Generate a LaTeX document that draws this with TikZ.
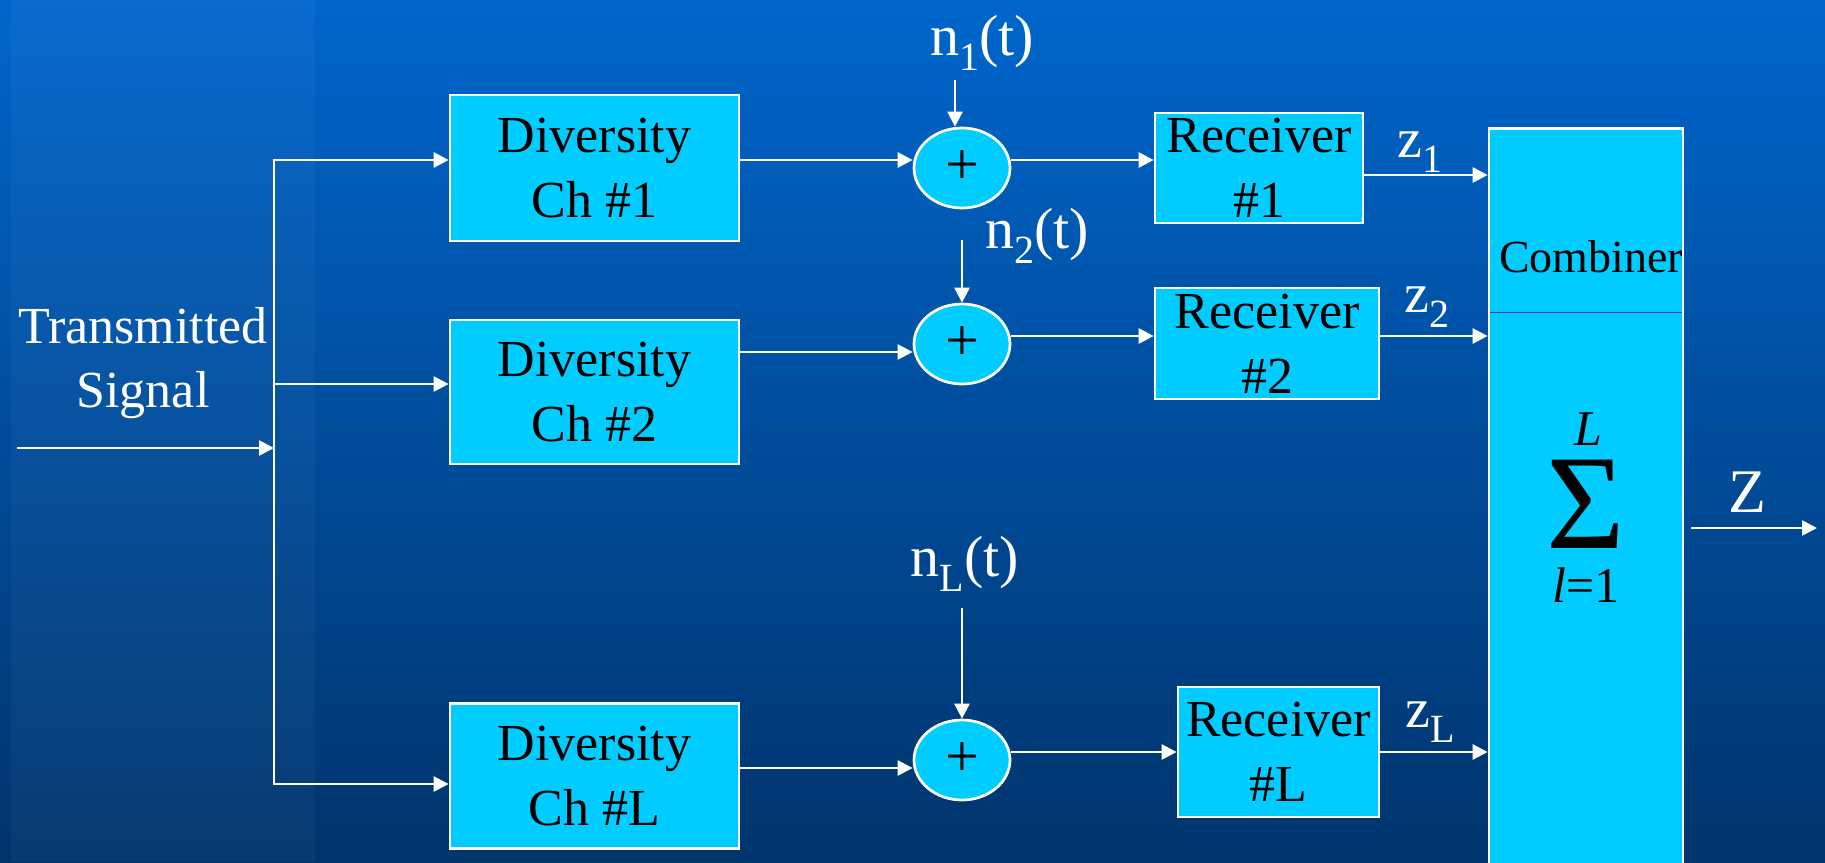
\documentclass[tikz,border=0pt]{standalone}
\usepackage{fontspec}
\setmainfont{Liberation Serif}
\usetikzlibrary{arrows.meta,shapes.geometric}

\definecolor{slidetop}{RGB}{0,102,204}
\definecolor{slidebot}{RGB}{0,52,108}
\definecolor{boxcyan}{RGB}{0,204,255}
\definecolor{splitblue}{RGB}{0,64,200}

\newcommand{\lowidx}[1]{\raisebox{-15pt}{\fontsize{40}{40}\selectfont #1}}

\tikzset{
  blockbox/.style={draw=white, line width=2.7pt, fill=boxcyan, inner sep=0pt,
    align=center, font=\fontsize{52}{65}\selectfont},
  adder/.style={ellipse, draw=white, line width=2.7pt, fill=boxcyan,
    minimum width=96pt, minimum height=80pt, inner sep=0pt,
    font=\fontsize{60}{60}\selectfont},
  wirelabel/.style={white, anchor=base, inner sep=0pt, font=\fontsize{58}{58}\selectfont},
  sumlabel/.style={black, anchor=base, inner sep=0pt, font=\fontsize{50}{50}\selectfont},
  arr/.style={white, line width=2.7pt, -{Triangle[length=15pt,width=15pt]}},
}

\begin{document}
\begin{tikzpicture}[x=1pt,y=-1pt]
\useasboundingbox (0,0) rectangle (1825,862);
\shade[top color=slidetop, bottom color=slidebot] (0,0) rectangle (1825,862);
\fill[white, opacity=0.03] (11,0) rectangle (315,862);

% input side
\node[white, align=center, inner sep=0pt, font=\fontsize{52}{64}\selectfont] (tx) at (143,363) {Transmitted\\Signal};
\coordinate (feed) at (17,448);
\coordinate (bustop) at (274,160);
\coordinate (busbot) at (274,784);

% diversity channels
\node[blockbox, minimum width=289pt, minimum height=146pt] (div1) at (594.5,168) {Diversity\\Ch \#1};
\node[blockbox, minimum width=289pt, minimum height=144pt] (div2) at (594.5,392) {Diversity\\Ch \#2};
\node[blockbox, minimum width=289pt, minimum height=145pt] (divL) at (594.5,776) {Diversity\\Ch \#L};

% noise adders
\node[adder] (sum1) at (962,168) {+};
\node[adder] (sum2) at (962,344) {+};
\node[adder] (sumL) at (962,760) {+};
\node[wirelabel] (n1) at (982,55) {n\lowidx{1}(t)};
\node[wirelabel] (n2) at (1037,248) {n\lowidx{2}(t)};
\node[wirelabel] (nL) at (965,576) {n\lowidx{L}(t)};
\coordinate (noise1) at (955,80);
\coordinate (noise2) at (962,240);
\coordinate (noiseL) at (962,608);

% receivers
\node[blockbox, minimum width=208pt, minimum height=110pt] (rec1) at (1259,168) {Receiver\\\#1};
\node[blockbox, minimum width=224pt, minimum height=111pt] (rec2) at (1267,343.5) {Receiver\\\#2};
\node[blockbox, minimum width=201pt, minimum height=130pt] (recL) at (1278.5,752) {Receiver\\\#L};
\node[wirelabel, font=\fontsize{56}{56}\selectfont] (z1) at (1420,157) {z\lowidx{1}};
\node[wirelabel, font=\fontsize{56}{56}\selectfont] (z2) at (1427,312) {z\lowidx{2}};
\node[wirelabel, font=\fontsize{56}{56}\selectfont] (zL) at (1430,727) {z\lowidx{L}};

% combiner
\node[blockbox, minimum width=194pt, minimum height=740pt, anchor=north] (comb) at (1586,127) {};
\draw[splitblue, line width=1pt] ([xshift=2pt]comb.west |- 0,312) -- ([xshift=-2pt]comb.east |- 0,312);
\node[sumlabel, font=\fontsize{46}{46}\selectfont] (combtxt) at (1591,272) {Combiner};
\node[sumlabel, font=\fontsize{135}{135}\selectfont, text height=90pt, text depth=0pt] (sigma) at (1586,548) {Σ};
\node[sumlabel, font=\fontsize{50}{50}\itshape, text depth=0pt] (upper) at (1588,445) {L};
\node[sumlabel, text height=34pt] (lower) at (1586,602) {\textit{l}=1};
\coordinate (zout) at (1817,528);
\node[wirelabel, font=\fontsize{62}{62}\selectfont] (zsum) at (1747,512) {Z};

% connectors
\draw[white, line width=2.7pt, line cap=rect] (bustop) -- (busbot);
\draw[arr] (feed) -- (bustop |- feed);
\draw[arr] (bustop) -- (div1.west |- bustop);
\draw[arr] (bustop |- 0,384) -- (div2.west |- 0,384);
\draw[arr] (busbot) -- (divL.west |- busbot);
\draw[arr] (div1.east |- 0,160) -- (sum1.west |- 0,160);
\draw[arr] (div2.east |- 0,352) -- (sum2.west |- 0,352);
\draw[arr] (divL.east |- 0,768) -- (sumL.west |- 0,768);
\draw[arr] (noise1) -- (noise1 |- sum1.north);
\draw[arr] (noise2) -- (sum2.north);
\draw[arr] (noiseL) -- (sumL.north);
\draw[arr] (sum1.east |- 0,160) -- (rec1.west |- 0,160);
\draw[arr] (sum2.east |- 0,336) -- (rec2.west |- 0,336);
\draw[arr] (sumL.east |- 0,752) -- (recL.west |- 0,752);
\draw[arr] (rec1.east |- 0,175) -- (comb.west |- 0,175);
\draw[arr] (rec2.east |- 0,336) -- (comb.west |- 0,336);
\draw[arr] (recL.east |- 0,752) -- (comb.west |- 0,752);
\draw[arr] ([xshift=7pt]comb.east |- zout) -- (zout);
\end{tikzpicture}
\end{document}
